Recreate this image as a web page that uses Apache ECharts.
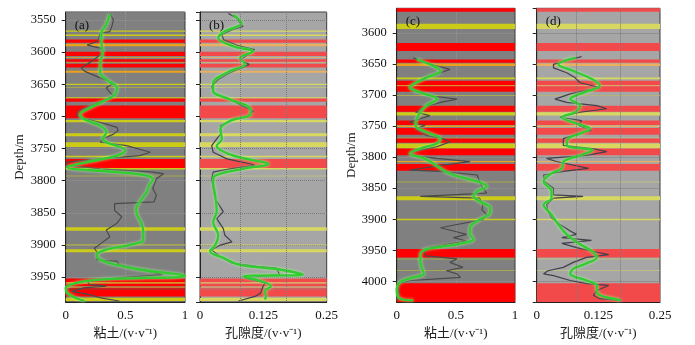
<!DOCTYPE html>
<html><head><meta charset="utf-8">
<script src="https://cdn.jsdelivr.net/npm/echarts@6/dist/echarts.min.js"></script>
<style>html,body{margin:0;padding:0;background:#fff}#c{width:695px;height:345px}</style>
</head><body><div id="c"></div>
<script>
// ---------- data ----------
const panelLabels = ['(a)', '(b)', '(c)', '(d)'];
const clayName = '粘土/(v·v⁻¹)';
const porName = '孔隙度/(v·v⁻¹)';
const depthName = 'Depth/m';
const clayTicks = [0, 0.5, 1];
const porTicks = [0, 0.125, 0.25];

// lithology bands [top depth, bottom depth, type] R=red, Y=yellow, O=orange
const bandsWell1 = [
 [3566.5,3568.5,'Y'],[3572.7,3575,'Y'],[3580.4,3585.5,'R'],[3587,3591,'O'],
 [3599.4,3606,'R'],[3608,3609.2,'O'],[3611,3615,'R'],[3616,3617,'O'],[3618,3624,'R'],
 [3629,3632,'O'],[3649,3651,'Y'],[3654.5,3655.5,'Y'],[3670,3672,'Y'],[3672,3677,'R'],
 [3683,3703,'R'],[3705.5,3709,'Y'],[3726,3731,'Y'],[3740,3747.5,'Y'],[3761,3763.4,'Y'],
 [3766,3780,'R'],[3780,3782.6,'Y'],[3792.2,3793.2,'Y'],[3872.5,3877.6,'Y'],[3899.3,3900.3,'Y'],
 [3906.5,3911,'Y'],[3952,3958,'R'],[3958,3960,'O'],[3960,3964,'R'],[3965,3966.5,'O'],
 [3966.5,3970,'D'],[3970,3980,'R'],[3982,3987,'Y']
];
const bandsWell2 = [
 [3560,3565.5,'R'],[3585,3593.6,'Y'],[3616,3629,'R'],[3642.6,3648,'R'],[3649,3653,'O'],
 [3671.8,3674.5,'Y'],[3677,3684,'R'],[3684,3685.5,'O'],[3685.5,3694.7,'R'],[3700.5,3701.5,'Y'],
 [3717,3726.6,'R'],[3727.6,3733,'Y'],[3741,3748,'R'],[3749,3751.5,'O'],[3753,3764,'R'],
 [3768.5,3769.5,'Y'],[3770,3776.6,'R'],[3778,3786,'Y'],[3786,3797,'R'],[3806,3808,'O'],
 [3811,3822,'R'],[3839.5,3840.5,'Y'],[3863,3869.5,'Y'],[3899,3901.5,'Y'],[3948,3961.5,'R'],
 [3963.5,3964.5,'Y'],[3982.5,3983.5,'Y'],[4003,4033.5,'R']
];

// curves: [depth, value]
const clayRawA = [[3540,0.37],[3550,0.40],[3558,0.39],[3568,0.37],[3570.5,0.29],[3576,0.28],[3583,0.27],[3589,0.18],[3591,0.185],[3593.7,0.29],[3599,0.31],[3604,0.29],[3614,0.22],[3624.5,0.13],[3630,0.16],[3640,0.29],[3648,0.40],[3655.7,0.34],[3660.6,0.36],[3668,0.40],[3673,0.34],[3684,0.20],[3691.5,0.105],[3699,0.09],[3704,0.18],[3712,0.34],[3717,0.43],[3722,0.44],[3727.5,0.40],[3735,0.31],[3740,0.29],[3745.5,0.51],[3755.7,0.71],[3761,0.62],[3766,0.29],[3771,0.01],[3776,0.01],[3781.5,0.29],[3786.6,0.73],[3789,0.82],[3797,0.76],[3812,0.73],[3822.7,0.76],[3833,0.74],[3835.5,0.41],[3846,0.41],[3856,0.47],[3866,0.43],[3876.7,0.34],[3887,0.37],[3897,0.30],[3905,0.24],[3913,0.27],[3923,0.26],[3925.5,0.43],[3930.7,0.45],[3938,0.62],[3946,0.81],[3951,0.43],[3956,0.18],[3961,0.20],[3964,0.34],[3966.7,0.15],[3972,0.05],[3977,0.20],[3982,0.29],[3987,0.45]];
const clayFitA = [[3541,0.37],[3557,0.34],[3570.5,0.30],[3586,0.30],[3601,0.31],[3617,0.29],[3632,0.29],[3645,0.36],[3655.7,0.43],[3668,0.40],[3678.5,0.29],[3689,0.18],[3696.6,0.12],[3704,0.15],[3714.6,0.29],[3725,0.34],[3735,0.31],[3740,0.34],[3753,0.50],[3761,0.43],[3771,0.18],[3779,0.01],[3786.6,0.43],[3792,0.68],[3798,0.73],[3807,0.70],[3817.5,0.68],[3825,0.65],[3833,0.62],[3843.5,0.59],[3854,0.60],[3864,0.63],[3879,0.65],[3892,0.65],[3900,0.53],[3907,0.34],[3915,0.26],[3923,0.29],[3931,0.43],[3938,0.62],[3946,0.96],[3948.6,1.0],[3953.6,0.29],[3958.7,0.09],[3966.7,0.0],[3974,0.01],[3982,0.08],[3987,0.16]];
const porRawA = [[3540,0.056],[3547,0.072],[3555,0.079],[3560,0.085],[3565.4,0.063],[3573,0.043],[3581,0.047],[3589,0.072],[3596,0.108],[3604,0.095],[3612,0.079],[3619,0.097],[3624.5,0.083],[3632,0.059],[3642.6,0.036],[3653,0.023],[3663,0.026],[3673.5,0.059],[3684,0.085],[3691.5,0.105],[3699,0.095],[3707,0.059],[3714.7,0.04],[3725,0.043],[3735,0.033],[3745.5,0.023],[3755.7,0.026],[3766,0.053],[3774,0.10],[3776,0.108],[3781.5,0.059],[3786.6,0.026],[3797,0.023],[3812,0.026],[3828,0.03],[3848,0.046],[3859,0.033],[3874.5,0.046],[3884.7,0.049],[3895,0.063],[3900,0.04],[3907.6,0.023],[3918,0.04],[3928,0.063],[3933,0.112],[3936,0.151],[3946,0.157],[3951,0.088],[3959,0.128],[3966.7,0.123],[3974,0.12],[3979.5,0.11],[3987,0.076]];
const porFitA = [[3542,0.066],[3555,0.082],[3568,0.048],[3578,0.036],[3591,0.066],[3599,0.105],[3609,0.079],[3619,0.089],[3629.5,0.059],[3648,0.026],[3660.6,0.026],[3673.5,0.059],[3689,0.10],[3696.6,0.10],[3707,0.059],[3720,0.04],[3735,0.043],[3745.5,0.033],[3761,0.066],[3771,0.125],[3774,0.135],[3781.5,0.085],[3792,0.03],[3802,0.026],[3822.7,0.03],[3848,0.033],[3864,0.026],[3884.7,0.036],[3900,0.03],[3910,0.02],[3920,0.046],[3931,0.079],[3938,0.157],[3946,0.203],[3948.6,0.085],[3956,0.12],[3964,0.14],[3972,0.128],[3979.5,0.13],[3984.7,0.128]];
const clayRawC = [[3640,0.14],[3645,0.21],[3653,0.34],[3658.5,0.45],[3664,0.37],[3674.5,0.21],[3682.5,0.14],[3687.7,0.11],[3693,0.18],[3701,0.28],[3706.4,0.51],[3711.6,0.37],[3719.6,0.23],[3727.6,0.16],[3733,0.28],[3738,0.20],[3743.5,0.11],[3749,0.24],[3754,0.16],[3765,0.25],[3770,0.39],[3775.5,0.45],[3783,0.34],[3791,0.14],[3797,0.13],[3802,0.34],[3807,0.62],[3812.7,0.39],[3820.7,0.11],[3823,0.37],[3828.7,0.68],[3839,0.70],[3850,0.73],[3858,0.76],[3863,0.20],[3866,0.70],[3876.6,0.73],[3884.6,0.72],[3892.5,0.76],[3900.5,0.73],[3908.5,0.51],[3913.7,0.37],[3919,0.48],[3924.4,0.59],[3929.7,0.48],[3935,0.59],[3940.3,0.42],[3945.6,0.28],[3953.6,0.23],[3959,0.25],[3964,0.51],[3969.5,0.45],[3977.5,0.56],[3983,0.42],[3988,0.51],[3993.6,0.54],[3996,0.34],[3998.7,0.12],[4004,0.01],[4020,0.02],[4030.6,0.0]];
const clayFitC = [[3642.6,0.17],[3653,0.31],[3661,0.37],[3672,0.25],[3682.5,0.14],[3687.7,0.11],[3695.7,0.20],[3706.4,0.34],[3717,0.25],[3727.6,0.20],[3738,0.17],[3749,0.16],[3759.5,0.25],[3770,0.37],[3778,0.34],[3786,0.20],[3794,0.11],[3802,0.23],[3810,0.31],[3818,0.37],[3828.7,0.48],[3839,0.68],[3847,0.76],[3855,0.68],[3863,0.65],[3871,0.70],[3881.7,0.79],[3889.6,0.79],[3900.5,0.70],[3913.7,0.62],[3924.4,0.62],[3932.3,0.65],[3940.3,0.51],[3948.3,0.25],[3956.3,0.20],[3967,0.20],[3977.5,0.21],[3988,0.23],[3993.6,0.14],[4001.4,0.03],[4014.7,0.0],[4028,0.03],[4030.6,0.14]];
const porRawD = [[3638,0.091],[3642.6,0.068],[3650.5,0.034],[3656,0.034],[3664,0.061],[3672,0.078],[3680,0.088],[3682.5,0.101],[3688,0.128],[3693,0.096],[3698,0.068],[3706.4,0.037],[3711.6,0.061],[3717,0.122],[3722,0.142],[3727.6,0.088],[3735.6,0.047],[3741,0.091],[3749,0.085],[3757,0.111],[3762,0.085],[3770,0.054],[3781,0.054],[3786,0.113],[3791,0.142],[3797,0.101],[3802,0.02],[3807,0.04],[3818,0.105],[3823,0.054],[3828.7,0.014],[3839,0.016],[3850,0.034],[3860.6,0.034],[3863,0.094],[3866,0.034],[3876.6,0.02],[3887,0.023],[3897.7,0.03],[3908.5,0.047],[3919,0.068],[3924.4,0.081],[3929.7,0.051],[3934,0.111],[3939,0.051],[3945.6,0.081],[3953.6,0.125],[3957,0.146],[3961.5,0.101],[3969.5,0.074],[3977.5,0.054],[3983,0.023],[3988,0.014],[3990.8,0.034],[3998.7,0.068],[4004,0.105],[4006.7,0.146],[4014.7,0.122],[4022.6,0.115],[4028,0.128],[4030.6,0.169]];
const porFitD = [[3640,0.078],[3650.5,0.044],[3661,0.074],[3674.5,0.113],[3685,0.128],[3695.7,0.096],[3706.4,0.068],[3717,0.088],[3727.6,0.078],[3735.6,0.051],[3746,0.081],[3754,0.108],[3762,0.088],[3770,0.064],[3781,0.061],[3788.8,0.113],[3797,0.088],[3807,0.054],[3818,0.051],[3826,0.03],[3839,0.014],[3855,0.03],[3866,0.03],[3876.6,0.014],[3892.5,0.03],[3908.5,0.044],[3924.4,0.061],[3940.3,0.088],[3951,0.111],[3961.5,0.122],[3972,0.098],[3980,0.074],[3988,0.068],[3998.7,0.101],[4006.7,0.122],[4014.7,0.122],[4022.6,0.128],[4028,0.156],[4030.6,0.171]];

// ---------- chart ----------
const FONT = '"Liberation Serif","Times New Roman","Noto Sans CJK SC",serif';
const darkPal = {bg:'#808080', R:'#ff0000', Y:'#cbcb18', O:'#eba21a', D:'#c42020', grid:'#959595', raw:'#4a4a4a'};
const lightPal = {bg:'#a6a6a6', R:'#f24a4a', Y:'#d8d860', O:'#eab060', D:'#d06060', grid:'#7a7a7a', raw:'#40404c'};

const panels = [
  {grid:{left:65.7, top:12, width:119.3, height:291.3}, ymin:3537.6, ymax:3988.7, bands:bandsWell1, pal:darkPal, xmax:1, ticks:clayTicks, name:clayName, raw:clayRawA, fit:clayFitA, showY:true, nameGap:40, thirds:false},
  {grid:{left:200, top:12, width:126.7, height:291.3}, ymin:3537.6, ymax:3988.7, bands:bandsWell1, pal:lightPal, xmax:0.25, ticks:porTicks, name:porName, raw:porRawA, fit:porFitA, showY:false, thirds:true},
  {grid:{left:396.7, top:8.3, width:118.3, height:296.7}, ymin:3560.1, ymax:4033.5, bands:bandsWell2, pal:darkPal, xmax:1, ticks:clayTicks, name:clayName, raw:clayRawC, fit:clayFitC, showY:true, nameGap:37, thirds:false},
  {grid:{left:536.7, top:8.3, width:123.3, height:296.7}, ymin:3560.1, ymax:4033.5, bands:bandsWell2, pal:lightPal, xmax:0.25, ticks:porTicks, name:porName, raw:porRawD, fit:porFitD, showY:false, thirds:true}
];

const grids = [], xAxes = [], yAxes = [], series = [], titles = [];
panels.forEach((p, i) => {
  grids.push(Object.assign({show:true, backgroundColor:p.pal.bg, borderColor:'#3a3a3a', borderWidth:1}, p.grid));
  xAxes.push({
    type:'value', gridIndex:i, min:0, max:p.xmax, interval:p.ticks[1],
    name:p.name, nameLocation:'middle', nameGap:21,
    nameTextStyle:{fontFamily:FONT, fontSize:13, color:'#222'},
    axisLine:{show:true, lineStyle:{color:'#222'}}, axisTick:{show:false},
    axisLabel:{fontFamily:FONT, fontSize:13, color:'#111', margin:7,
      formatter: v => String(+v.toFixed(3))},
    splitLine:{show:!p.thirds, lineStyle:{type:'dotted', color:p.pal.grid, width:1}}
  });
  yAxes.push({
    type:'value', gridIndex:i, inverse:true, min:p.ymin, max:p.ymax, splitNumber:9,
    name:p.showY ? depthName : '', nameLocation:'middle', nameGap:p.nameGap || 30,
    nameTextStyle:{fontFamily:FONT, fontSize:13, color:'#222'},
    axisLine:{show:true, onZero:false, lineStyle:{color:'#222'}},
    axisTick:{show:true, inside:false, length:4, lineStyle:{color:'#222'}},
    axisLabel:{show:p.showY, fontFamily:FONT, fontSize:12.5, color:'#111', margin:10,
      showMinLabel:false, showMaxLabel:false,
      formatter: v => (Math.abs(v % 50) < 1e-6 ? String(v) : '')},
    splitLine:{show:true, lineStyle:{type:'dotted', color:p.pal.grid, width:1}}
  });
  const areas = p.bands.map(b => [
    {yAxis:b[0], itemStyle:{color:p.pal[b[2]], opacity:1}},
    {yAxis:b[1]}
  ]);
  const rawSeries = {
    type:'line', xAxisIndex:i, yAxisIndex:i, showSymbol:false, symbol:'none',
    data:p.raw.map(d => [d[1], d[0]]),
    lineStyle:{color:p.pal.raw, width:1.2},
    z:3, silent:true,
    markArea:{silent:true, z:1, data:areas}
  };
  if (p.thirds) {
    rawSeries.markLine = {silent:true, symbol:'none', label:{show:false},
      lineStyle:{type:'dotted', color:p.pal.grid, width:1},
      data:[{xAxis:p.xmax/3}, {xAxis:p.xmax*2/3}]};
  }
  series.push(rawSeries);
  series.push({
    type:'line', xAxisIndex:i, yAxisIndex:i, showSymbol:false, symbol:'none', smooth:0.35,
    data:p.fit.map(d => [d[1], d[0]]),
    lineStyle:{color:'#30cc30', width:2.3, shadowColor:'rgba(170,255,150,0.9)', shadowBlur:3},
    z:4, silent:true
  });
  titles.push({text:panelLabels[i], left:p.grid.left + 4, top:p.grid.top + 2,
    textStyle:{fontFamily:FONT, fontSize:13, fontWeight:'normal', color:'#111'}});
});

const chart = echarts.init(document.getElementById('c'), null, {renderer:'canvas', width:695, height:345});
chart.setOption({
  animation:false, backgroundColor:'#fff',
  title:titles, grid:grids, xAxis:xAxes, yAxis:yAxes, series:series
});
</script></body></html>
